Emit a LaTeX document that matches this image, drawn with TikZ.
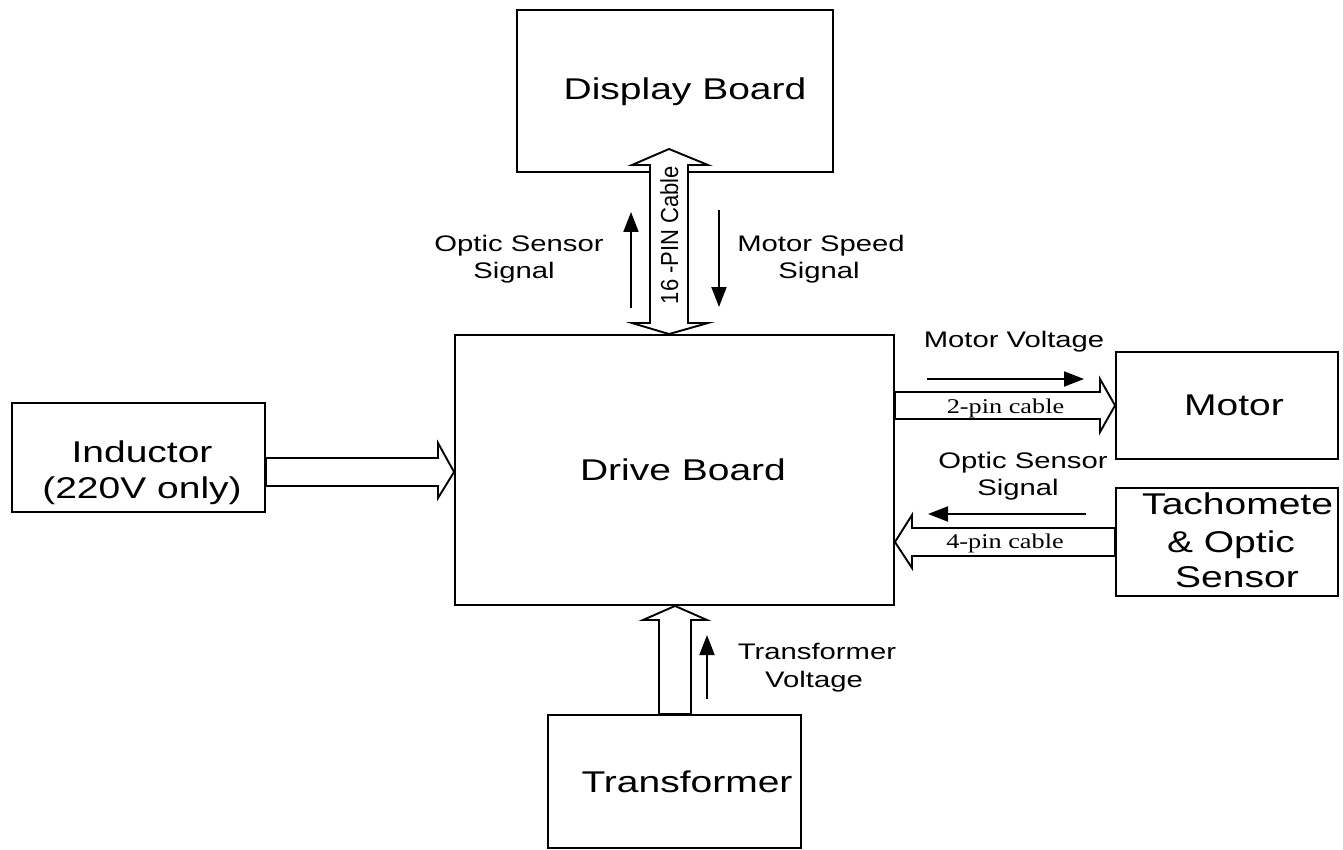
\documentclass[tikz,border=0pt]{standalone}
\usepackage{fontspec}
\setmainfont{Liberation Sans}[FakeStretch=1.3]
\newfontfamily\plainsans{Liberation Sans}
\newfontfamily\stretchserif{Liberation Serif}[FakeStretch=1.25]
\usetikzlibrary{arrows.meta}
\begin{document}
\begin{tikzpicture}[x=1pt,y=-1pt,
  box/.style={draw, line width=1.9pt, inner sep=0pt},
  bigtxt/.style={font=\fontsize{30}{36}\selectfont, inner sep=0pt, anchor=base},
  smalltxt/.style={font=\fontsize{22.5}{27}\selectfont, inner sep=0pt, anchor=base},
  cabletxt/.style={font=\stretchserif\fontsize{21}{25}\selectfont, inner sep=0pt, anchor=base},
  blockarrow/.style={draw, line width=1.9pt, fill=white, line join=miter},
  sig/.style={line width=2pt, -{Triangle[length=20pt,width=15pt]}}
]
\useasboundingbox (0,0) rectangle (1343,850);

% boxes
\node[box, minimum width=316pt, minimum height=162pt] (disp) at (675,91) {};
\node[box, minimum width=439pt, minimum height=270pt] (drive) at (674.5,470) {};
\node[box, minimum width=253pt, minimum height=109pt] (ind) at (138.5,457.5) {};
\node[box, minimum width=222pt, minimum height=107pt] (mot) at (1227,405.5) {};
\node[box, minimum width=222pt, minimum height=108pt] (tach) at (1227,542) {};
\node[box, minimum width=253pt, minimum height=133pt] (tr) at (674.5,781.5) {};

% box texts
\node[bigtxt] (tdisp) at (685,100) {Display Board};
\node[bigtxt] (tdrive) at (683,480) {Drive Board};
\node[bigtxt] (tind1) at (142,462) {Inductor};
\node[bigtxt] (tind2) at (142,498) {(220V only)};
\node[bigtxt] (ttr) at (687,792) {Transformer};
\node[bigtxt] (tmot) at (1234,415) {Motor};
\node[bigtxt, anchor=base west] (tta1) at (1142,514) {Tachomete};
\node[bigtxt] (tta2) at (1231,552) {\& Optic};
\node[bigtxt] (tta3) at (1237,587) {Sensor};

% block arrows
\draw[blockarrow] (669,149) -- (708,165) -- (688,165) -- (688,323) -- (708,323)
  -- (drive.north -| 669,0) -- (632,323) -- (650,323) -- (650,165) -- (632,165) -- cycle;
\draw[blockarrow] (ind.east |- 0,458) -- (438,458) -- (438,443) -- (drive.west |- 0,472)
  -- (438,498) -- (438,486) -- (ind.east |- 0,486) -- cycle;
\draw[blockarrow] (drive.east |- 0,392) -- (1100,392) -- (1100,379) -- (mot.west)
  -- (1100,432) -- (1100,419) -- (drive.east |- 0,419) -- cycle;
\draw[blockarrow] (tach.west |- 0,528) -- (912,528) -- (912,515) -- (drive.east |- 0,542)
  -- (912,568) -- (912,556) -- (tach.west |- 0,556) -- cycle;
\draw[blockarrow] (tr.north -| 659,0) -- (659,620) -- (643,620) -- (drive.south -| 675,0)
  -- (707,620) -- (691,620) -- (tr.north -| 691,0) -- cycle;

% cable labels
\node[font=\plainsans\fontsize{22}{26}\selectfont, rotate=90, anchor=base, inner sep=0pt] (c16) at (678,235) {\scalebox{1}[1.12]{16 -PIN Cable}};
\node[cabletxt] (c2) at (1005.5,413) {2-pin cable};
\node[cabletxt] (c4) at (1005,548) {4-pin cable};

% signal arrows
\draw[sig] (631,308) -- (631,212);
\draw[sig] (719,210) -- (719,307);
\draw[sig] (927,379) -- (1084,379);
\draw[sig] (1086,514) -- (928,514);
\draw[sig] (707,699) -- (707,635);

% signal labels
\node[smalltxt] (l1a) at (519,252) {Optic Sensor};
\node[smalltxt] (l1b) at (514,278) {Signal};
\node[smalltxt] (l2a) at (821,252) {Motor Speed};
\node[smalltxt] (l2b) at (819,278) {Signal};
\node[smalltxt] (l3) at (1014,347) {Motor Voltage};
\node[smalltxt] (l4a) at (1023,468) {Optic Sensor};
\node[smalltxt] (l4b) at (1018,495) {Signal};
\node[smalltxt] (l5a) at (817,659) {Transformer};
\node[smalltxt] (l5b) at (814,687) {Voltage};
\end{tikzpicture}
\end{document}
